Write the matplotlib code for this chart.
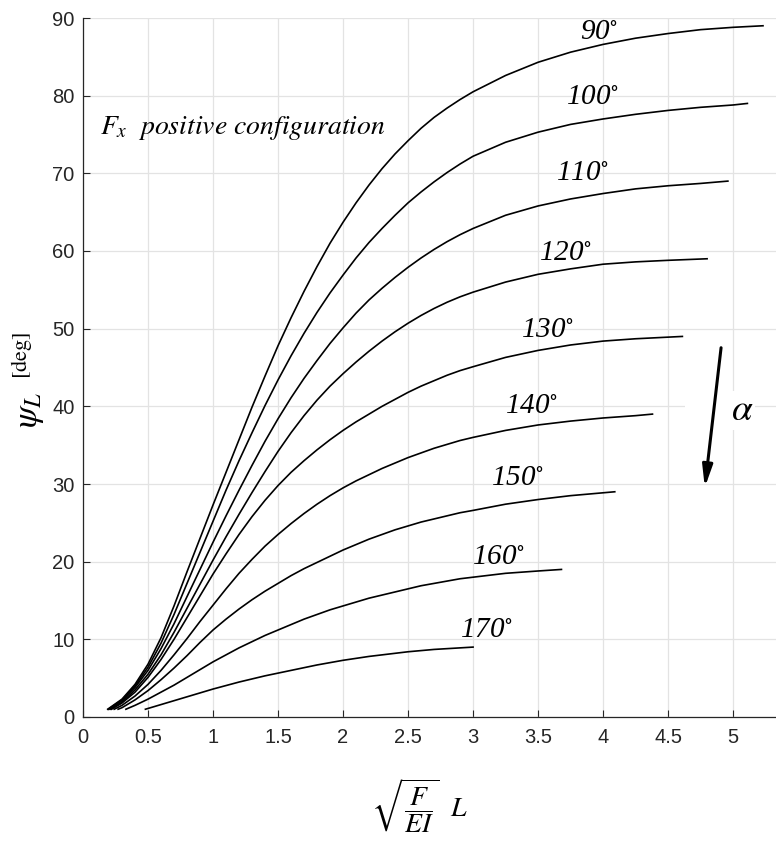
import matplotlib
matplotlib.use("Agg")
import matplotlib.pyplot as plt
from matplotlib.patches import Rectangle

plt.rcParams.update({"font.family": "Liberation Sans", "mathtext.fontset": "stix"})

# ── data ─────────────────────────────────────────────────────────────────
x_90 = [0.19, 0.3, 0.4, 0.5, 0.6, 0.7, 0.8, 0.9, 1.0, 1.1, 1.2, 1.3, 1.4, 1.5, 1.6, 1.7, 1.8, 1.9,
        2.0, 2.1, 2.2, 2.3, 2.4, 2.5, 2.6, 2.7, 2.8, 2.9, 3.0, 3.25, 3.5, 3.75, 4.0, 4.25, 4.5, 4.75,
        5.0, 5.23]
y_90 = [1.0, 2.3, 4.2, 6.8, 10.2, 14.3, 18.7, 23.0, 27.3, 31.5, 35.7, 39.9, 43.9, 47.8, 51.4, 54.8, 58.0, 61.0,
        63.7, 66.2, 68.5, 70.6, 72.5, 74.2, 75.8, 77.2, 78.4, 79.5, 80.5, 82.6, 84.3, 85.6, 86.6, 87.4, 88.0, 88.5,
        88.8, 89.0]

x_100 = [0.195, 0.3, 0.4, 0.5, 0.6, 0.7, 0.8, 0.9, 1.0, 1.1, 1.2, 1.3, 1.4, 1.5, 1.6, 1.7, 1.8, 1.9,
         2.0, 2.1, 2.2, 2.3, 2.4, 2.5, 2.6, 2.7, 2.8, 2.9, 3.0, 3.25, 3.5, 3.75, 4.0, 4.25, 4.5, 4.75,
         5.0, 5.11]
y_100 = [1.0, 2.2, 4.0, 6.4, 9.5, 13.2, 17.2, 21.2, 25.2, 29.2, 33.0, 36.6, 40.1, 43.4, 46.5, 49.4, 52.1, 54.6,
         56.9, 59.1, 61.1, 62.9, 64.6, 66.2, 67.6, 68.9, 70.1, 71.2, 72.2, 74.0, 75.3, 76.3, 77.0, 77.6, 78.1, 78.5,
         78.8, 79.0]

x_110 = [0.2, 0.3, 0.4, 0.5, 0.6, 0.7, 0.8, 0.9, 1.0, 1.1, 1.2, 1.3, 1.4, 1.5, 1.6, 1.7, 1.8, 1.9,
         2.0, 2.1, 2.2, 2.3, 2.4, 2.5, 2.6, 2.7, 2.8, 2.9, 3.0, 3.25, 3.5, 3.75, 4.0, 4.25, 4.5, 4.75, 4.96]
y_110 = [1.0, 2.1, 3.8, 6.0, 8.8, 12.0, 15.5, 19.0, 22.5, 25.9, 29.2, 32.4, 35.5, 38.4, 41.1, 43.6, 45.9, 48.1,
         50.1, 52.0, 53.7, 55.2, 56.6, 57.9, 59.1, 60.2, 61.2, 62.1, 62.9, 64.6, 65.8, 66.7, 67.4, 68.0, 68.4, 68.7,
         69.0]

x_120 = [0.21, 0.3, 0.4, 0.5, 0.6, 0.7, 0.8, 0.9, 1.0, 1.1, 1.2, 1.3, 1.4, 1.5, 1.6, 1.7, 1.8, 1.9,
         2.0, 2.1, 2.2, 2.3, 2.4, 2.5, 2.6, 2.7, 2.8, 2.9, 3.0, 3.25, 3.5, 3.75, 4.0, 4.25, 4.5, 4.8]
y_120 = [1.0, 1.9, 3.5, 5.5, 8.0, 10.9, 14.0, 17.1, 20.2, 23.2, 26.1, 28.9, 31.6, 34.2, 36.6, 38.8, 40.8, 42.6,
         44.2, 45.7, 47.1, 48.4, 49.6, 50.7, 51.7, 52.6, 53.4, 54.1, 54.7, 56.0, 57.0, 57.7, 58.3, 58.6, 58.8, 59.0]

x_130 = [0.22, 0.3, 0.4, 0.5, 0.6, 0.7, 0.8, 0.9, 1.0, 1.1, 1.2, 1.3, 1.4, 1.5, 1.6, 1.7, 1.8, 1.9,
         2.0, 2.1, 2.2, 2.3, 2.4, 2.5, 2.6, 2.7, 2.8, 2.9, 3.0, 3.25, 3.5, 3.75, 4.0, 4.25, 4.61]
y_130 = [1.0, 1.8, 3.2, 5.1, 7.4, 10.0, 12.8, 15.6, 18.4, 21.0, 23.5, 25.8, 27.9, 29.8, 31.5, 33.0, 34.4, 35.7,
         36.9, 38.0, 39.0, 40.0, 40.9, 41.8, 42.6, 43.3, 44.0, 44.6, 45.1, 46.3, 47.2, 47.9, 48.4, 48.7, 49.0]

x_140 = [0.24, 0.3, 0.4, 0.5, 0.6, 0.7, 0.8, 0.9, 1.0, 1.1, 1.2, 1.3, 1.4, 1.5, 1.6, 1.7, 1.8, 1.9,
         2.0, 2.1, 2.2, 2.3, 2.4, 2.5, 2.6, 2.7, 2.8, 2.9, 3.0, 3.25, 3.5, 3.75, 4.0, 4.25, 4.38]
y_140 = [1.0, 1.5, 2.7, 4.2, 6.0, 8.0, 10.1, 12.3, 14.4, 16.5, 18.5, 20.3, 22.0, 23.5, 24.9, 26.2, 27.4, 28.5,
         29.5, 30.4, 31.2, 32.0, 32.7, 33.4, 34.0, 34.6, 35.1, 35.6, 36.0, 36.9, 37.6, 38.1, 38.5, 38.8, 39.0]

x_150 = [0.27, 0.3, 0.4, 0.5, 0.6, 0.7, 0.8, 0.9, 1.0, 1.1, 1.2, 1.3, 1.4, 1.5, 1.6, 1.7, 1.8, 1.9,
         2.0, 2.1, 2.2, 2.3, 2.4, 2.5, 2.6, 2.7, 2.8, 2.9, 3.0, 3.25, 3.5, 3.75, 4.09]
y_150 = [1.0, 1.2, 2.2, 3.4, 4.8, 6.3, 7.9, 9.6, 11.2, 12.6, 13.9, 15.1, 16.2, 17.2, 18.2, 19.1, 19.9, 20.7,
         21.5, 22.2, 22.9, 23.5, 24.1, 24.6, 25.1, 25.5, 25.9, 26.3, 26.6, 27.4, 28.0, 28.5, 29.0]

x_160 = [0.33, 0.4, 0.5, 0.6, 0.7, 0.8, 0.9, 1.0, 1.1, 1.2, 1.3, 1.4, 1.5, 1.6, 1.7, 1.8, 1.9,
         2.0, 2.1, 2.2, 2.3, 2.4, 2.5, 2.6, 2.7, 2.8, 2.9, 3.0, 3.25, 3.5, 3.68]
y_160 = [1.0, 1.5, 2.3, 3.2, 4.1, 5.1, 6.1, 7.1, 8.0, 8.9, 9.7, 10.5, 11.2, 11.9, 12.6, 13.2, 13.8,
         14.3, 14.8, 15.3, 15.7, 16.1, 16.5, 16.9, 17.2, 17.5, 17.8, 18.0, 18.5, 18.8, 19.0]

x_170 = [0.48, 0.6, 0.7, 0.8, 0.9, 1.0, 1.1, 1.2, 1.3, 1.4, 1.5, 1.6, 1.7, 1.8, 1.9, 2.0, 2.1, 2.2, 2.3,
         2.4, 2.5, 2.6, 2.7, 2.8, 2.9, 3.0]
y_170 = [1.0, 1.6, 2.1, 2.6, 3.1, 3.6, 4.05, 4.5, 4.9, 5.3, 5.65, 6.0, 6.35, 6.7, 7.0, 7.3, 7.55, 7.8, 8.0,
         8.2, 8.4, 8.55, 8.7, 8.8, 8.9, 9.0]

angles = [90, 100, 110, 120, 130, 140, 150, 160, 170]
label_x = [3.97, 3.92, 3.84, 3.71, 3.57, 3.45, 3.34, 3.19, 3.10]
label_y = [88.2, 79.8, 70.0, 59.7, 49.8, 40.0, 30.8, 20.6, 11.2]

xs = [x_90, x_100, x_110, x_120, x_130, x_140, x_150, x_160, x_170]
ys = [y_90, y_100, y_110, y_120, y_130, y_140, y_150, y_160, y_170]

# ── figure ───────────────────────────────────────────────────────────────
fig = plt.figure(figsize=(7.76, 8.43), dpi=100)
ax = fig.add_axes([83 / 776, 126 / 843, 693 / 776, 699 / 843])

for x, y in zip(xs, ys):
    ax.plot(x, y, color="black", linewidth=1.2, zorder=3, solid_joinstyle="round")

for a, lx, ly in zip(angles, label_x, label_y):
    ax.text(lx, ly, "%d$^{\\circ}$" % a, fontsize=21, family="Liberation Serif", style="italic",
            ha="center", va="center", zorder=4)

ax.set_xlim(0, 5.33)
ax.set_ylim(0, 90)
ax.set_xticks([0, 0.5, 1, 1.5, 2, 2.5, 3, 3.5, 4, 4.5, 5])
ax.set_xticklabels(["0", "0.5", "1", "1.5", "2", "2.5", "3", "3.5", "4", "4.5", "5"])
ax.set_yticks(range(0, 91, 10))
ax.tick_params(direction="in", length=5, width=0.8, colors="#262626", labelsize=14.5)
ax.tick_params(axis="x", pad=8)
ax.tick_params(axis="y", pad=6)
ax.grid(True, color="#e3e3e3", linewidth=0.9)
ax.set_axisbelow(True)
ax.spines[["top", "right"]].set_visible(False)
for s in ["left", "bottom"]:
    ax.spines[s].set_color("#262626")
    ax.spines[s].set_linewidth(0.9)

# white box behind the alpha arrow
ax.add_patch(Rectangle((4.63, 30.3), 0.36, 19.2, facecolor="white", edgecolor="none", zorder=1.5))
ax.annotate("", xy=(4.78, 29.2), xytext=(4.91, 47.9),
            arrowprops=dict(arrowstyle="-|>,head_length=1.3,head_width=0.3", color="black", lw=2.2),
            zorder=5)
ax.text(5.07, 39.5, r"$\alpha$", fontsize=27, ha="center", va="center", zorder=5,
        bbox=dict(facecolor="white", edgecolor="none", pad=1))

ax.text(0.13, 75.9, r"$F_{x}\ \ \mathit{positive\ configuration}$", fontsize=20, ha="left", va="center",
        zorder=4)

# axis labels
fig.text(30 / 776, 1 - 410 / 843, r"$\psi_{L}$", fontsize=25, rotation=90, ha="center", va="center")
fig.text(21 / 776, 1 - 355 / 843, r"$\mathrm{[deg]}$", fontsize=16, rotation=90, ha="center", va="center")
fig.text(420 / 776, 1 - 806 / 843, r"$\sqrt{\dfrac{F}{EI}}\ \ L$", fontsize=20, ha="center", va="center")

fig.savefig("out.png", dpi=100)
